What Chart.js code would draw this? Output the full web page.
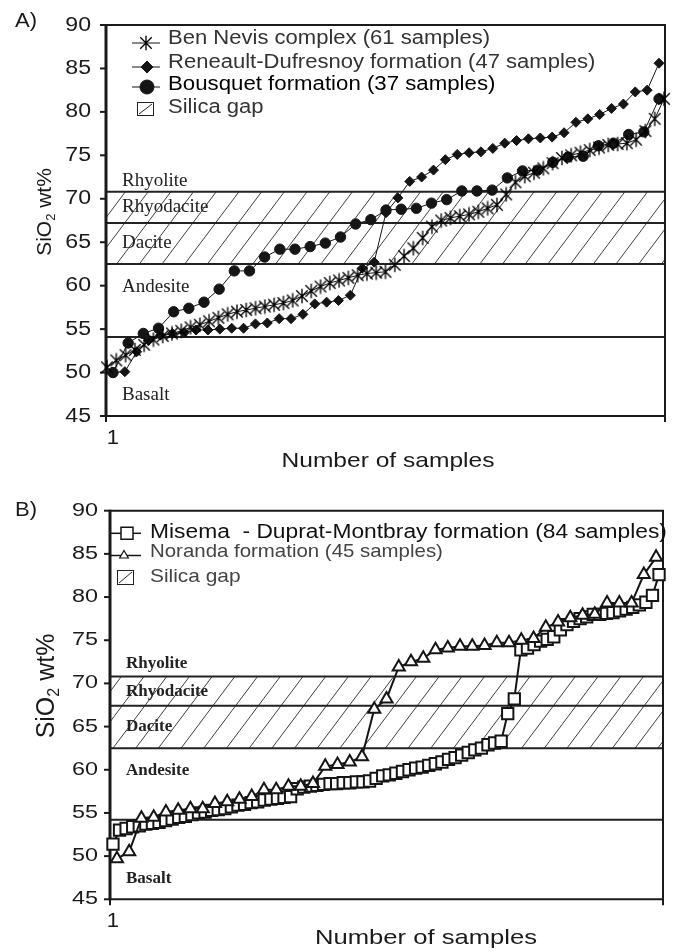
<!DOCTYPE html>
<html>
<head>
<meta charset="utf-8">
<title>SiO2 distribution by volcanic unit</title>
<script src="https://cdn.jsdelivr.net/npm/chart.js@4"></script>
<style>
  html, body { margin: 0; padding: 0; background: #ffffff; }
  #wrap { position: relative; width: 673px; height: 952px; overflow: hidden; }
  #wrap canvas { position: absolute; left: 0; }
</style>
</head>
<body>
<div id="wrap">
  <canvas id="chartA" width="673" height="476" style="top:0px"></canvas>
  <canvas id="chartB" width="673" height="476" style="top:476px"></canvas>
</div>
<script>
// ---- SiO2 (wt%) of each sample, sorted in increasing order ----
const benNevis = [
  50.6, 51.4, 52.0, 52.6, 53.2, 53.8, 54.2, 54.5, 54.8, 55.2,
  55.5, 55.9, 56.3, 56.7, 57.0, 57.2, 57.4, 57.6, 57.8, 58.0,
  58.3, 58.8, 59.4, 59.9, 60.3, 60.6, 60.9, 61.2, 61.4, 61.5,
  61.6, 62.4, 63.4, 64.3, 65.5, 66.8, 67.5, 67.8, 68.0, 68.2,
  68.5, 68.9, 69.3, 70.5, 71.9, 72.6, 73.0, 73.5, 74.1, 74.7,
  75.0, 75.3, 75.6, 75.9, 76.2, 76.3, 76.4, 76.8, 77.8, 79.2,
  81.5
];
const reneaultDufresnoy = [
  50.0, 50.1, 52.4, 53.7, 54.3, 54.5, 54.6, 54.9, 54.9, 55.0,
  55.1, 55.1, 55.6, 55.7, 56.2, 56.2, 56.7, 57.9, 58.1, 58.3,
  58.9, 62.0, 62.7, 68.4, 70.1, 72.0, 72.5, 73.3, 74.5, 75.1,
  75.3, 75.4, 75.8, 76.4, 76.7, 76.9, 77.0, 77.1, 77.6, 78.8,
  79.2, 79.7, 80.4, 80.9, 82.3, 82.5, 85.6
];
const bousquet = [
  50.0, 53.4, 54.5, 55.1, 57.0, 57.4, 58.1, 59.6, 61.7, 61.7,
  63.3, 64.2, 64.2, 64.5, 64.9, 65.6, 67.1, 67.6, 68.7, 68.8,
  68.9, 69.5, 69.9, 70.9, 70.9, 71.0, 72.4, 73.2, 73.3, 74.2,
  74.8, 74.9, 76.1, 76.4, 77.4, 77.7, 81.5
];
const misema = [
  51.4, 53.0, 53.2, 53.4, 53.5, 53.7, 53.8, 53.9, 54.1, 54.3,
  54.5, 54.6, 54.8, 55.0, 55.1, 55.3, 55.4, 55.5, 55.7, 55.9,
  56.0, 56.2, 56.3, 56.5, 56.6, 56.7, 56.8, 56.9, 57.8, 58.0,
  58.1, 58.2, 58.3, 58.4, 58.4, 58.5, 58.5, 58.6, 58.6, 58.7,
  59.0, 59.3, 59.4, 59.6, 59.8, 60.0, 60.2, 60.3, 60.5, 60.7,
  60.9, 61.2, 61.4, 61.7, 62.0, 62.3, 62.5, 62.9, 63.1, 63.3,
  66.5, 68.2, 73.9, 74.1, 74.5, 74.9, 75.1, 75.4, 76.2, 76.8,
  77.2, 77.5, 77.7, 78.0, 78.0, 78.1, 78.2, 78.4, 78.6, 78.8,
  79.1, 79.4, 80.2, 82.6
];
const noranda = [
  49.7, 50.5, 54.4, 54.5, 55.1, 55.3, 55.5, 55.5, 56.1, 56.3,
  56.6, 56.9, 57.7, 57.7, 58.1, 58.1, 58.4, 60.4, 60.6, 60.9,
  61.5, 67.0, 68.2, 71.9, 72.5, 72.9, 73.9, 74.1, 74.3, 74.3,
  74.4, 74.7, 74.7, 75.0, 75.2, 76.5, 77.1, 77.6, 77.9, 78.0,
  79.3, 79.3, 79.3, 82.6, 84.6
];

// ---- axis ticks, rock-type zones and names ----
const yTicks = [45, 50, 55, 60, 65, 70, 75, 80, 85, 90];
const xTickLabels = ['1'];
const zoneNames = ['Rhyolite', 'Rhyodacite', 'Dacite', 'Andesite', 'Basalt'];
const zoneBoundsA = [54.1, 62.5, 67.2, 70.8];   // basalt|andesite|dacite|rhyodacite|rhyolite
const zoneBoundsB = [54.2, 62.5, 67.4, 70.8];
const seriesNamesA = ['Ben Nevis complex (61 samples)', 'Reneault-Dufresnoy formation (47 samples)', 'Bousquet formation (37 samples)'];
const seriesNamesB = ['Misema  - Duprat-Montbray formation (84 samples)', 'Noranda formation (45 samples)'];
const gapName = 'Silica gap';
const xTitle = 'Number of samples';

const SANS = '"Liberation Sans", Arial, Helvetica, sans-serif';
const SERIF = '"Liberation Serif", "Times New Roman", Times, serif';
const INK = '#1a1a1a';

const toXY = arr => arr.map((v, i) => ({ x: i + 1, y: v }));

// hidden rank axis: first sample sits inL px inside the plot, last sample inR px inside
function rankAxis(n, inL, inR, w) {
  const step = (w - inL - inR) / (n - 1);
  return { type: 'linear', axis: 'x', position: 'bottom', display: false,
           min: 1 - inL / step, max: n + inR / step };
}

// asterisk marker (X with a vertical bar)
function makeAsterisk(size) {
  const c = document.createElement('canvas');
  c.width = size; c.height = size;
  const g = c.getContext('2d');
  const m = size / 2, r = size / 2 - 0.8, d = r * 0.8;
  g.strokeStyle = '#000000';
  g.lineWidth = 1.35;
  g.lineCap = 'butt';
  g.beginPath();
  g.moveTo(m - d, m - d); g.lineTo(m + d, m + d);
  g.moveTo(m + d, m - d); g.lineTo(m - d, m + d);
  g.moveTo(m, m - r); g.lineTo(m, m + r);
  g.stroke();
  return c;
}
const asterisk = makeAsterisk(16);

// text with optional horizontal stretch
function txt(ctx, s, x, y, o) {
  ctx.save();
  ctx.font = (o.weight || 'normal') + ' ' + o.size + 'px ' + (o.family || SANS);
  ctx.fillStyle = o.color || INK;
  ctx.textBaseline = o.baseline || 'middle';
  ctx.textAlign = o.align || 'left';
  ctx.translate(x, y);
  ctx.scale(o.sx || 1, 1);
  ctx.fillText(s, 0, 0);
  ctx.restore();
}

// vertical "SiO2 wt%" with subscript
function yTitleText(ctx, cx, cy, size) {
  const sub = Math.round(size * 0.62);
  ctx.save();
  ctx.translate(cx, cy);
  ctx.rotate(-Math.PI / 2);
  ctx.fillStyle = INK;
  ctx.textBaseline = 'middle';
  ctx.textAlign = 'left';
  ctx.font = size + 'px ' + SANS;
  const w1 = ctx.measureText('SiO').width;
  const w3 = ctx.measureText(' wt%').width;
  ctx.font = sub + 'px ' + SANS;
  const w2 = ctx.measureText('2').width;
  let x = -(w1 + w2 + w3) / 2;
  ctx.font = size + 'px ' + SANS;
  ctx.fillText('SiO', x, 0); x += w1;
  ctx.font = sub + 'px ' + SANS;
  ctx.fillText('2', x, size * 0.3); x += w2;
  ctx.font = size + 'px ' + SANS;
  ctx.fillText(' wt%', x, 0);
  ctx.restore();
}

function hatch(ctx, L, R, yTop, yBot, h) {
  ctx.save();
  ctx.beginPath();
  ctx.rect(L, yTop, R - L, yBot - yTop);
  ctx.clip();
  ctx.strokeStyle = '#2a2a2a';
  ctx.lineWidth = 0.9;
  ctx.beginPath();
  const ht = yBot - yTop;
  for (let k = -10; k < 40; k++) {
    const x0 = L + h.phase + k * h.spacing;
    ctx.moveTo(x0, yBot);
    ctx.lineTo(x0 + ht * h.slope, yTop);
  }
  ctx.stroke();
  ctx.restore();
}

function legendMarker(ctx, it) {
  const x = it.mx, y = it.my, r = it.r;
  ctx.save();
  ctx.strokeStyle = '#151515';
  ctx.fillStyle = it.fill || '#151515';
  ctx.lineWidth = it.lw || 1;
  if (it.kind === 'asterisk') {
    ctx.drawImage(asterisk, x - asterisk.width / 2, y - asterisk.height / 2);
    ctx.restore();
    return;
  }
  ctx.beginPath();
  if (it.kind === 'diamond') {
    ctx.moveTo(x - r, y); ctx.lineTo(x, y - r); ctx.lineTo(x + r, y); ctx.lineTo(x, y + r); ctx.closePath();
  } else if (it.kind === 'circle') {
    ctx.arc(x, y, r, 0, Math.PI * 2);
  } else if (it.kind === 'square') {
    ctx.rect(x - r, y - r, 2 * r, 2 * r);
  } else if (it.kind === 'triangle') {
    ctx.moveTo(x, y - r); ctx.lineTo(x + r * 0.866, y + r / 2); ctx.lineTo(x - r * 0.866, y + r / 2); ctx.closePath();
  }
  ctx.fill();
  ctx.stroke();
  ctx.restore();
}

function gapBox(ctx, b) {
  ctx.save();
  ctx.strokeStyle = '#222';
  ctx.lineWidth = 1;
  ctx.strokeRect(b.x + 0.5, b.y + 0.5, b.w, b.h);
  ctx.beginPath();
  ctx.moveTo(b.x + 2, b.y + b.h - 1);
  ctx.lineTo(b.x + b.w - 1, b.y + 2);
  ctx.stroke();
  ctx.restore();
}

// draws frame, zones, hatch, ticks, labels and legend of one panel
function decorPlugin(p) {
  return {
    id: 'decor',
    beforeDatasetsDraw(chart) {
      const ctx = chart.ctx, a = chart.chartArea, ys = chart.scales.y;
      const L = a.left, R = a.right, T = a.top, B = a.bottom;

      hatch(ctx, L, R, ys.getPixelForValue(p.bounds[3]), ys.getPixelForValue(p.bounds[1]), p.hatch);

      ctx.save();
      ctx.strokeStyle = '#222';
      ctx.lineWidth = 2;
      p.bounds.forEach(v => {
        const y = ys.getPixelForValue(v);
        ctx.beginPath(); ctx.moveTo(L, y); ctx.lineTo(R, y); ctx.stroke();
      });
      ctx.restore();

      zoneNames.forEach((n, i) => txt(ctx, n, p.zoneX, ys.getPixelForValue(p.zoneLevels[i]), p.zoneFont));

      // frame
      ctx.save();
      ctx.strokeStyle = '#1a1a1a';
      ctx.lineWidth = 2;
      ctx.beginPath();
      ctx.moveTo(L, T); ctx.lineTo(R, T); ctx.lineTo(R, B + 6); ctx.moveTo(L, B); ctx.lineTo(R, B);
      ctx.moveTo(L, B); ctx.lineTo(L, B + 6);
      ctx.stroke();
      ctx.lineWidth = 3;
      ctx.beginPath(); ctx.moveTo(L, T - 1); ctx.lineTo(L, B + 1); ctx.stroke();
      // y ticks
      ctx.lineWidth = 2;
      yTicks.forEach(v => {
        const y = ys.getPixelForValue(v);
        ctx.beginPath(); ctx.moveTo(L - 6, y); ctx.lineTo(L, y); ctx.stroke();
        txt(ctx, String(v), p.tickRight, y, Object.assign({ align: 'right' }, p.tickFont));
      });
      ctx.restore();

      // x axis labels
      const xs = chart.scales[p.oneAxis];
      txt(ctx, xTickLabels[0], xs.getPixelForValue(1), B + p.oneDy, Object.assign({ align: 'center' }, p.oneFont));
      txt(ctx, xTitle, p.title.x, B + p.title.dy, Object.assign({ align: 'center' }, p.title.font));
      yTitleText(ctx, p.yTitle.x, p.yTitle.y, p.yTitle.size);
      txt(ctx, p.tag, p.tagPos[0], p.tagPos[1], { size: 21, sx: 1.05, color: INK });
    },
    afterDatasetsDraw(chart) {
      const ctx = chart.ctx;
      p.legend.forEach(it => {
        if (it.kind === 'gap') {
          gapBox(ctx, it.box);
        } else {
          ctx.save();
          ctx.strokeStyle = '#151515';
          ctx.lineWidth = p.legendLine;
          ctx.beginPath(); ctx.moveTo(it.l1, it.my); ctx.lineTo(it.l2, it.my); ctx.stroke();
          ctx.restore();
          legendMarker(ctx, it);
        }
        txt(ctx, it.text, it.tx, it.ty, it.font);
      });
    }
  };
}

// ---------- panel A ----------
const widthA = 560;
const panelA = {
  tag: 'A)', tagPos: [15, 21],
  bounds: zoneBoundsA,
  zoneLevels: [72.05, 69.06, 64.9, 59.85, 47.4],
  zoneX: 122,
  zoneFont: { size: 19, family: SERIF, color: '#222' },
  hatch: { spacing: 22.7, slope: 0.75, phase: 10.7 },
  tickFont: { size: 20, sx: 1.155, color: INK },
  tickRight: 91,
  oneAxis: 'xBQ', oneDy: 22, oneFont: { size: 20, sx: 1.1, color: INK },
  title: { x: 388, dy: 45, font: { size: 21, sx: 1.17, color: INK } },
  yTitle: { x: 45, y: 212, size: 21 },
  legendLine: 1,
  legend: [
    { kind: 'asterisk', l1: 132, l2: 160, mx: 146, my: 43, r: 7, text: seriesNamesA[0], tx: 168, ty: 39,
      font: { size: 19.5, sx: 1.13, color: '#333' } },
    { kind: 'diamond', l1: 132, l2: 160, mx: 147, my: 67, r: 6, text: seriesNamesA[1], tx: 168, ty: 62.5,
      font: { size: 19.5, sx: 1.13, color: '#333' } },
    { kind: 'circle', l1: 132, l2: 160, mx: 147, my: 87, r: 7, text: seriesNamesA[2], tx: 168, ty: 84.5,
      font: { size: 19.5, sx: 1.14, color: '#000' } },
    { kind: 'gap', box: { x: 137, y: 102, w: 16, h: 13 }, text: gapName, tx: 168, ty: 108,
      font: { size: 19.5, sx: 1.13, color: '#333' } }
  ]
};

new Chart(document.getElementById('chartA'), {
  type: 'line',
  data: {
    datasets: [
      { label: seriesNamesA[0], data: toXY(benNevis), xAxisID: 'xBN', yAxisID: 'y',
        borderColor: '#151515', borderWidth: 1, pointStyle: asterisk, pointRadius: 7, clip: false, tension: 0 },
      { label: seriesNamesA[1], data: toXY(reneaultDufresnoy), xAxisID: 'xRD', yAxisID: 'y',
        borderColor: '#151515', borderWidth: 1, pointStyle: 'rectRot', pointRadius: 5,
        pointBackgroundColor: '#151515', pointBorderColor: '#151515', pointBorderWidth: 1, clip: false, tension: 0 },
      { label: seriesNamesA[2], data: toXY(bousquet), xAxisID: 'xBQ', yAxisID: 'y',
        borderColor: '#151515', borderWidth: 1, pointStyle: 'circle', pointRadius: 5.2,
        pointBackgroundColor: '#151515', pointBorderColor: '#151515', pointBorderWidth: 1, clip: false, tension: 0 }
    ]
  },
  options: {
    responsive: false, animation: false, devicePixelRatio: 1, events: [],
    layout: { padding: { left: 106, right: 7, top: 25, bottom: 60 } },
    plugins: { legend: { display: false }, tooltip: { enabled: false } },
    scales: {
      y: { type: 'linear', display: false, min: 45, max: 90 },
      xBN: rankAxis(benNevis.length, 1, 1, widthA),
      xRD: rankAxis(reneaultDufresnoy.length, 7, 6, widthA),
      xBQ: rankAxis(bousquet.length, 7, 6, widthA)
    }
  },
  plugins: [decorPlugin(panelA)]
});

// ---------- panel B ----------
const widthB = 560;
const panelB = {
  tag: 'B)', tagPos: [15, 34],
  bounds: zoneBoundsB,
  zoneLevels: [72.25, 69.0, 64.95, 59.86, 47.35],
  zoneX: 126,
  zoneFont: { size: 17, family: SERIF, weight: 'bold', color: '#222' },
  hatch: { spacing: 22.7, slope: 0.75, phase: 3 },
  tickFont: { size: 18, sx: 1.3, color: INK },
  tickRight: 98,
  oneAxis: 'xMI', oneDy: 22, oneFont: { size: 20, sx: 1.1, color: INK },
  title: { x: 426, dy: 39, font: { size: 21, sx: 1.22, color: INK } },
  yTitle: { x: 47, y: 210, size: 25 },
  legendLine: 1.5,
  legend: [
    { kind: 'square', l1: 110, l2: 141, mx: 127, my: 57.3, r: 6, lw: 1.5, fill: '#fff', text: seriesNamesB[0], tx: 150, ty: 56,
      font: { size: 20, sx: 1.14, color: '#111' } },
    { kind: 'triangle', l1: 110, l2: 141, mx: 124, my: 79.5, r: 5, lw: 1.2, fill: '#fff', text: seriesNamesB[1], tx: 150, ty: 75.7,
      font: { size: 19, sx: 1.075, color: '#444' } },
    { kind: 'gap', box: { x: 117, y: 94, w: 16, h: 14 }, text: gapName, tx: 150, ty: 100.5,
      font: { size: 19, sx: 1.1, color: '#444' } }
  ]
};

new Chart(document.getElementById('chartB'), {
  type: 'line',
  data: {
    datasets: [
      { label: seriesNamesB[1], data: toXY(noranda), xAxisID: 'xNO', yAxisID: 'y',
        borderColor: '#151515', borderWidth: 2, pointStyle: 'triangle', pointRadius: 7,
        pointBackgroundColor: '#ffffff', pointBorderColor: '#151515', pointBorderWidth: 2, clip: false, tension: 0 },
      { label: seriesNamesB[0], data: toXY(misema), xAxisID: 'xMI', yAxisID: 'y',
        borderColor: '#151515', borderWidth: 2, pointStyle: 'rect', pointRadius: 8,
        pointBackgroundColor: '#ffffff', pointBorderColor: '#151515', pointBorderWidth: 2, clip: false, tension: 0 }
    ]
  },
  options: {
    responsive: false, animation: false, devicePixelRatio: 1, events: [],
    layout: { padding: { left: 110, right: 3, top: 34.7, bottom: 52.7 } },
    plugins: { legend: { display: false }, tooltip: { enabled: false } },
    scales: {
      y: { type: 'linear', display: false, min: 45, max: 90 },
      xMI: rankAxis(misema.length, 3, 4, widthB),
      xNO: rankAxis(noranda.length, 7, 7, widthB)
    }
  },
  plugins: [decorPlugin(panelB)]
});
</script>
</body>
</html>
